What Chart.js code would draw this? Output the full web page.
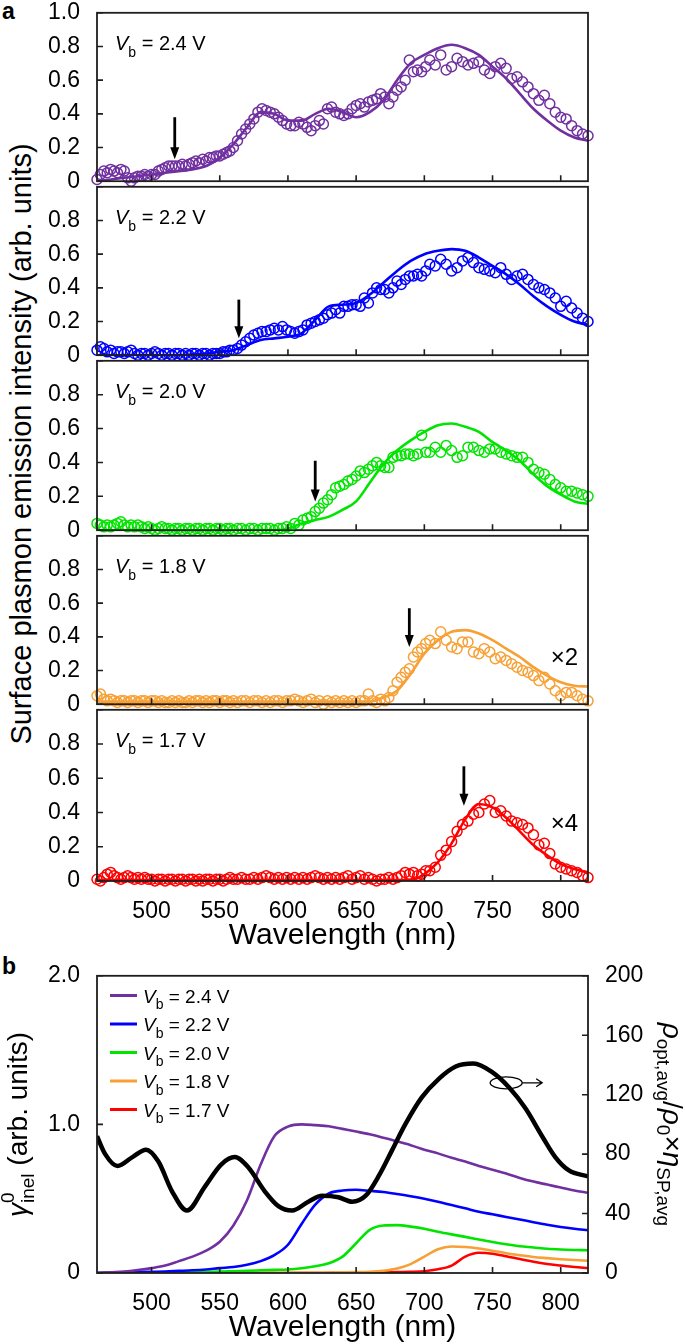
<!DOCTYPE html>
<html>
<head>
<meta charset="utf-8">
<script src="https://cdn.jsdelivr.net/npm/chart.js@4.4.1/dist/chart.umd.min.js"></script>
<style>
  body { margin: 0; background: #fff; }
  #wrap { position: relative; width: 685px; height: 1344px; overflow: hidden; font-family: "Liberation Sans", Arial, sans-serif; color: #000; }
  #wrap canvas { position: absolute; left: 0; }
  .tag { position: absolute; font-weight: bold; font-size: 23px; line-height: 1; }
  #ytitle { position: absolute; left: 21px; top: 444px; transform: translate(-50%, -50%) rotate(-90deg); white-space: nowrap; font-size: 29px; line-height: 1; }
</style>
</head>
<body>
<div id="wrap">
  <div class="tag" style="left:2px;top:0px">a</div>
  <div class="tag" style="left:2px;top:955px">b</div>
  <div id="ytitle">Surface plasmon emission intensity (arb. units)</div>
</div>
<script>
// ---- data ----
// measured wavelengths (nm)
const wl = [460,462.5,465,467.5,470,472.5,475,477.5,480,482.5,485,487.5,490,492.5,495,497.5,500,502.5,505,507.5,
  510,512.5,515,517.5,520,522.5,525,527.5,530,532.5,535,537.5,540,542.5,545,547.5,550,552.5,555,557.5,560,
  563,566,569,572,575,578,581,584,587,590,593,596,599,602,605,608,611,614,617,620,623,626,629,632,635,638,
  641,644,647,650,653,656,659,662,665,668,671,674,677,680,683,686,689,692,695,698,701,
  704,708,712,716,720,724,728,732,736,740,744,748,752,756,760,764,768,772,776,780,784,788,792,796,800,804,808,812,816,820];

// emission spectra, circles
const em24 = [0.01,0.04,0.06,0.05,0.07,0.06,0.05,0.07,0.06,0.02,0.00,0.02,0.03,0.03,0.04,0.03,0.04,0.04,0.06,0.07,
  0.08,0.09,0.09,0.09,0.09,0.10,0.09,0.10,0.11,0.12,0.11,0.13,0.12,0.14,0.14,0.15,0.15,0.16,0.17,0.18,0.20,
  0.24,0.28,0.31,0.34,0.37,0.41,0.43,0.42,0.41,0.40,0.38,0.36,0.34,0.33,0.33,0.35,0.34,0.32,0.30,0.33,
  0.36,0.34,0.43,0.44,0.41,0.40,0.39,0.40,0.43,0.45,0.46,0.44,0.47,0.48,0.49,0.52,0.50,0.46,0.50,0.54,
  0.56,0.60,0.72,0.65,0.66,0.65,0.68,
  0.72,0.69,0.75,0.66,0.68,0.73,0.71,0.69,0.70,0.71,0.66,0.64,0.68,0.70,0.67,0.61,0.62,0.59,0.56,0.52,
  0.48,0.51,0.46,0.41,0.38,0.37,0.33,0.30,0.28,0.27];
const em22 = [0.03,0.05,0.04,0.02,0.03,0.01,0.02,0.02,0.01,0.02,0.03,0.01,0.00,0.01,0.01,0.00,0.01,0.02,0.01,0.00,
  0.01,0.01,0.00,0.01,0.01,0.00,0.01,0.00,0.01,0.01,0.00,0.01,0.01,0.00,0.01,0.01,0.01,0.02,0.02,0.03,0.03,
  0.04,0.06,0.08,0.10,0.12,0.13,0.14,0.14,0.15,0.16,0.15,0.17,0.15,0.14,0.13,0.14,0.15,0.18,0.19,0.20,
  0.21,0.22,0.24,0.25,0.27,0.25,0.29,0.29,0.30,0.30,0.29,0.34,0.31,0.37,0.40,0.39,0.39,0.37,0.40,0.44,
  0.42,0.45,0.47,0.47,0.48,0.47,0.50,
  0.54,0.53,0.57,0.54,0.50,0.52,0.56,0.58,0.55,0.52,0.51,0.50,0.49,0.52,0.48,0.45,0.47,0.48,0.45,0.42,
  0.40,0.39,0.37,0.34,0.29,0.32,0.28,0.25,0.22,0.20];
const em20 = [0.04,0.03,0.02,0.03,0.02,0.03,0.04,0.05,0.03,0.02,0.03,0.02,0.03,0.02,0.01,0.02,0.01,0.00,0.01,0.02,
  0.01,0.01,0.00,0.01,0.01,0.00,0.01,0.01,0.00,0.01,0.01,0.00,0.01,0.01,0.00,0.01,0.01,0.00,0.01,0.01,0.00,
  0.01,0.01,0.00,0.01,0.01,0.00,0.01,0.01,0.01,0.00,0.01,0.01,0.02,0.01,0.04,0.03,0.06,0.07,0.08,0.11,
  0.13,0.16,0.18,0.21,0.25,0.26,0.27,0.29,0.30,0.32,0.35,0.34,0.36,0.38,0.40,0.38,0.37,0.37,0.43,0.44,
  0.44,0.45,0.45,0.44,0.45,0.56,0.46,
  0.46,0.49,0.46,0.50,0.47,0.43,0.44,0.49,0.49,0.47,0.46,0.48,0.48,0.46,0.45,0.44,0.43,0.43,0.40,0.36,
  0.34,0.33,0.30,0.27,0.25,0.23,0.23,0.22,0.21,0.20];
const em18 = [0.05,0.06,0.03,0.02,0.03,0.02,0.01,0.02,0.02,0.01,0.02,0.02,0.01,0.02,0.02,0.01,0.02,0.02,0.01,0.02,
  0.01,0.01,0.02,0.01,0.02,0.01,0.01,0.02,0.01,0.02,0.02,0.01,0.02,0.01,0.02,0.02,0.01,0.02,0.02,0.01,0.02,
  0.01,0.02,0.02,0.01,0.02,0.02,0.01,0.02,0.01,0.02,0.02,0.01,0.02,0.02,0.03,0.02,0.01,0.02,0.03,0.01,
  0.02,0.00,0.02,0.01,0.02,0.01,0.02,0.01,0.02,0.01,0.02,0.02,0.06,0.02,0.01,0.03,0.02,0.04,0.08,0.13,
  0.16,0.19,0.21,0.28,0.31,0.33,0.36,
  0.38,0.36,0.43,0.38,0.34,0.33,0.37,0.37,0.31,0.30,0.33,0.31,0.27,0.28,0.26,0.24,0.22,0.20,0.19,0.17,
  0.14,0.16,0.12,0.08,0.05,0.07,0.07,0.05,0.03,0.02];
const em17 = [0.01,0.00,0.02,0.04,0.05,0.03,0.02,0.01,0.02,0.03,0.02,0.01,0.02,0.01,0.02,0.01,0.01,0.00,0.01,0.01,
  0.00,0.01,0.01,0.00,0.01,0.01,0.00,0.01,0.01,0.00,0.01,0.00,0.01,0.01,0.00,0.01,0.01,0.00,0.01,0.02,0.01,
  0.01,0.02,0.01,0.01,0.02,0.01,0.02,0.03,0.02,0.01,0.02,0.01,0.02,0.01,0.02,0.01,0.02,0.01,0.02,0.03,
  0.02,0.01,0.02,0.01,0.02,0.01,0.02,0.03,0.01,0.02,0.03,0.01,0.02,0.01,0.00,0.01,0.01,0.02,0.01,0.02,
  0.03,0.05,0.04,0.05,0.03,0.04,0.06,
  0.06,0.08,0.15,0.18,0.23,0.29,0.33,0.35,0.39,0.40,0.45,0.47,0.40,0.41,0.38,0.35,0.34,0.33,0.31,0.27,
  0.21,0.22,0.16,0.10,0.08,0.07,0.06,0.05,0.03,0.02];

// calculated spectra, solid lines
const fitWl = [460,470,480,490,500,510,520,530,540,550,560,570,580,590,600,610,620,630,640,650,
  660,670,680,690,700,710,720,730,740,750,760,770,780,790,800,810,820];
const fit24 = [0.00,0.01,0.02,0.03,0.04,0.05,0.06,0.07,0.09,0.14,0.22,0.32,0.41,0.40,0.36,0.36,0.40,0.43,0.41,0.38,
  0.41,0.48,0.60,0.70,0.75,0.79,0.81,0.79,0.75,0.68,0.61,0.52,0.43,0.36,0.30,0.26,0.24];
const fit22 = [0,0,0,0,0,0,0,0.005,0.01,0.02,0.03,0.06,0.09,0.10,0.11,0.13,0.21,0.29,0.30,0.31,
  0.36,0.43,0.50,0.56,0.60,0.62,0.63,0.62,0.58,0.53,0.48,0.42,0.35,0.29,0.24,0.20,0.18];
const fit20 = [0,0,0,0,0,0,0,0,0,0,0,0,0,0,0.01,0.04,0.06,0.08,0.12,0.17,
  0.28,0.39,0.47,0.53,0.58,0.62,0.63,0.61,0.58,0.52,0.47,0.41,0.33,0.26,0.21,0.17,0.155];
const fit18 = [0.015,0.015,0.015,0.015,0.015,0.015,0.015,0.015,0.015,0.015,0.015,0.015,0.015,0.015,0.015,0.015,0.015,0.015,0.015,0.015,
  0.015,0.04,0.08,0.18,0.30,0.38,0.43,0.44,0.42,0.38,0.33,0.28,0.22,0.17,0.13,0.11,0.105];
const fit17 = [0.005,0.005,0.005,0.005,0.005,0.005,0.005,0.005,0.005,0.005,0.005,0.005,0.005,0.005,0.005,0.005,0.005,0.005,0.005,0.005,
  0.005,0.005,0.005,0.005,0.04,0.11,0.22,0.36,0.45,0.43,0.37,0.29,0.21,0.15,0.10,0.07,0.05];

const biasLabels = ['2.4', '2.2', '2.0', '1.8', '1.7'];
const cutoffNm = [517, 564, 620, 689, 729];      // hc/eV_b, marked by arrows
const scaleFactors = ['', '', '', '×2', '×4'];

// panel b
const rhoWl = [460,466,475,486,496,505,515,526,539,551,561,571,583,593,603,615,625,637,647,657,
  667,676,686,698,711,723,736,750,762,774,787,796,806,820];
const rhoEta = [92,80,72,78,83,75,55,42,58,73,78,71,55,45,42,48,52,51,48,52,
  66,82,100,118,131,139,141,135,125,111,91,78,69,65];
const gWl = fitWl;
const g24 = [0,0.005,0.01,0.02,0.033,0.05,0.08,0.11,0.15,0.21,0.32,0.49,0.73,0.92,0.985,1.0,0.995,0.988,0.97,0.952,
  0.933,0.91,0.886,0.86,0.83,0.805,0.775,0.75,0.72,0.695,0.67,0.64,0.615,0.595,0.575,0.555,0.54];
const g22 = [0,0.002,0.004,0.006,0.008,0.01,0.014,0.018,0.024,0.033,0.04,0.055,0.08,0.12,0.19,0.33,0.46,0.535,0.555,0.56,
  0.553,0.545,0.532,0.517,0.50,0.48,0.457,0.435,0.412,0.395,0.377,0.36,0.342,0.325,0.31,0.298,0.288];
const g20 = [0,0,0,0.001,0.002,0.003,0.004,0.005,0.007,0.009,0.012,0.015,0.018,0.021,0.024,0.032,0.045,0.065,0.11,0.2,
  0.29,0.32,0.322,0.312,0.298,0.278,0.26,0.243,0.225,0.208,0.193,0.18,0.172,0.163,0.158,0.155,0.153];
const g18 = [0,0,0,0,0,0,0,0,0,0,0,0.001,0.001,0.002,0.002,0.003,0.003,0.004,0.005,0.006,
  0.008,0.015,0.03,0.06,0.11,0.16,0.178,0.175,0.165,0.15,0.133,0.12,0.108,0.1,0.093,0.087,0.082];
const g17 = [0,0,0,0,0,0,0,0,0,0,0,0,0,0,0,0,0,0,0.001,0.002,
  0.003,0.004,0.006,0.008,0.012,0.025,0.05,0.11,0.136,0.13,0.113,0.094,0.076,0.061,0.05,0.04,0.033];

// ---- look ----
const FONT = '"Liberation Sans", Arial, sans-serif';
const colors = ['#7030a0', '#0000ff', '#00e400', '#f7a035', '#ff0000'];
const W = 685, PLOT_L = 97, PLOT_R = 588, XAXIS_H = 73;
const subTop = [10, 184, 358, 533, 707];
const subH = [174, 174, 175, 174, 174];
const arrowSpan = [[0.38, 0.13], [0.33, 0.10], [0.41, 0.17], [0.57, 0.34], [0.67, 0.44]];
const multY = [0, 0, 0, 129, 121];

Chart.defaults.font.family = FONT;
Chart.defaults.color = '#000';

const pts = (xs, ys) => xs.map((x, k) => ({ x: x, y: ys[k] }));

function segFont(s) { return (s.it ? 'italic ' : '') + s.size + 'px ' + FONT; }
function richWidth(ctx, segs) {
  let w = 0;
  segs.forEach(s => { ctx.font = segFont(s); if (!s.noAdv) w += ctx.measureText(s.t).width; });
  return w;
}
function drawRich(ctx, segs, x, y) {
  let cx = x;
  segs.forEach(s => {
    ctx.font = segFont(s);
    ctx.fillText(s.t, cx, y + (s.dy || 0));
    if (!s.noAdv) cx += ctx.measureText(s.t).width;
  });
}
function vbSegs(v, size) {
  return [{ t: 'V', size: size, it: true }, { t: 'b', size: Math.round(size * 0.72), dy: size * 0.36 }, { t: ' = ' + v + ' V', size: size }];
}

// box + inward tick marks
const frameTicks = {
  id: 'frameTicks',
  afterDatasetsDraw(chart) {
    const { ctx, chartArea: a, scales } = chart;
    ctx.save();
    ctx.strokeStyle = '#1e1e1e';
    ctx.lineWidth = 1.8;
    ctx.strokeRect(a.left, a.top, a.right - a.left, a.bottom - a.top);
    ctx.lineWidth = 1.6;
    ctx.beginPath();
    scales.x.ticks.forEach(t => { const p = scales.x.getPixelForValue(t.value); ctx.moveTo(p, a.bottom); ctx.lineTo(p, a.bottom - 6); });
    scales.y.ticks.forEach(t => { const p = scales.y.getPixelForValue(t.value); ctx.moveTo(a.left, p); ctx.lineTo(a.left + 6, p); });
    if (scales.y1) scales.y1.ticks.forEach(t => { const p = scales.y1.getPixelForValue(t.value); ctx.moveTo(a.right, p); ctx.lineTo(a.right - 6, p); });
    ctx.stroke();
    ctx.restore();
  }
};

// V_b label, threshold arrow, scale factor
const panelNotes = {
  id: 'panelNotes',
  afterDraw(chart, args, o) {
    if (!o.bias) return;
    const { ctx, chartArea: a, scales: { x, y } } = chart;
    ctx.save();
    ctx.fillStyle = '#000';
    drawRich(ctx, vbSegs(o.bias, 20), a.left + 18, a.top + 37);
    const ax = x.getPixelForValue(o.cutoff);
    const yTop = y.getPixelForValue(o.span[0]), yTip = y.getPixelForValue(o.span[1]);
    ctx.strokeStyle = '#000';
    ctx.lineWidth = 2.8;
    ctx.beginPath(); ctx.moveTo(ax, yTop); ctx.lineTo(ax, yTip - 10); ctx.stroke();
    ctx.beginPath(); ctx.moveTo(ax - 4.5, yTip - 12); ctx.lineTo(ax + 4.5, yTip - 12); ctx.lineTo(ax, yTip); ctx.closePath(); ctx.fill();
    if (o.mult) {
      ctx.font = '24px ' + FONT;
      ctx.textAlign = 'right';
      ctx.fillText(o.mult, a.right - 10, a.top + o.multY);
    }
    ctx.restore();
  }
};

// legend, ellipse marker and axis titles of panel b
const panelBNotes = {
  id: 'panelBNotes',
  afterDraw(chart) {
    const { ctx, chartArea: a, scales: { x, y1 } } = chart;
    ctx.save();
    ctx.fillStyle = '#000';
    biasLabels.forEach((b, i) => {
      const ly = a.top + 19.7 + 28.5 * i;
      ctx.strokeStyle = colors[i];
      ctx.lineWidth = 3;
      ctx.beginPath(); ctx.moveTo(a.left + 13, ly); ctx.lineTo(a.left + 40, ly); ctx.stroke();
      drawRich(ctx, vbSegs(b, 19), a.left + 46, ly + 7);
    });
    const ex = x.getPixelForValue(760), ey = y1.getPixelForValue(128);
    ctx.strokeStyle = '#000';
    ctx.lineWidth = 1.3;
    ctx.beginPath(); ctx.ellipse(ex, ey, 16, 6, 0, 0, Math.PI * 2); ctx.stroke();
    ctx.beginPath();
    ctx.moveTo(ex + 16, ey); ctx.lineTo(ex + 36, ey);
    ctx.moveTo(ex + 30, ey - 4); ctx.lineTo(ex + 36, ey); ctx.lineTo(ex + 30, ey + 4);
    ctx.stroke();

    const cy = (a.top + a.bottom) / 2;
    const left = [{ t: 'γ', size: 28, it: true }, { t: '0', size: 19, dy: -13, noAdv: true }, { t: 'inel', size: 19, dy: 7 }, { t: ' (arb. units)', size: 28 }];
    ctx.save();
    ctx.translate(27, cy); ctx.rotate(-Math.PI / 2);
    drawRich(ctx, left, -richWidth(ctx, left) / 2, 0);
    ctx.restore();
    const right = [{ t: 'ρ', size: 28, it: true }, { t: 'opt,avg', size: 19, dy: 6 }, { t: '/', size: 28 }, { t: 'ρ', size: 28, it: true },
      { t: '0', size: 19, dy: 6 }, { t: '×', size: 28 }, { t: 'η', size: 28, it: true }, { t: 'SP,avg', size: 19, dy: 6 }];
    ctx.save();
    ctx.translate(663, cy); ctx.rotate(Math.PI / 2);
    drawRich(ctx, right, -richWidth(ctx, right) / 2, 0);
    ctx.restore();
    ctx.restore();
  }
};

const wrap = document.getElementById('wrap');
function makeCanvas(top, height) {
  const c = document.createElement('canvas');
  c.width = W; c.height = height;
  c.style.top = top + 'px';
  c.style.width = W + 'px'; c.style.height = height + 'px';
  wrap.appendChild(c);
  return c;
}

function xScale(showLabels) {
  return {
    type: 'linear', min: 460, max: 820,
    grid: { display: false }, border: { display: false },
    ticks: { stepSize: 50, includeBounds: false, display: showLabels, padding: 9, font: { size: 23 }, color: '#000' },
    title: { display: showLabels, text: 'Wavelength (nm)', font: { size: 30 }, color: '#000', padding: 0 },
    afterFit: s => { s.height = showLabels ? XAXIS_H : 0; }
  };
}

// panel a: five stacked spectra
const emission = [em24, em22, em20, em18, em17];
const fits = [fit24, fit22, fit20, fit18, fit17];
emission.forEach((vals, i) => {
  const last = i === 4;
  const cv = makeCanvas(subTop[i] - 20, 20 + subH[i] + (last ? XAXIS_H : 20));
  new Chart(cv, {
    type: 'scatter',
    data: {
      datasets: [
        { data: pts(fitWl, fits[i]), showLine: true, borderColor: colors[i], borderWidth: 2.6, pointRadius: 0, cubicInterpolationMode: 'monotone' },
        { data: pts(wl, vals), showLine: false, borderColor: colors[i], backgroundColor: 'rgba(0,0,0,0)', pointRadius: 5, pointBorderWidth: 1.5, clip: false }
      ]
    },
    options: {
      responsive: false, animation: false, devicePixelRatio: 1,
      layout: { padding: { top: 20, right: W - PLOT_R, bottom: last ? 0 : 20, left: 0 } },
      events: [],
      plugins: {
        legend: { display: false }, tooltip: { enabled: false },
        panelNotes: { bias: biasLabels[i], cutoff: cutoffNm[i], span: arrowSpan[i], mult: scaleFactors[i], multY: multY[i] }
      },
      scales: {
        x: xScale(last),
        y: {
          min: 0, max: 1, grid: { display: false }, border: { display: false },
          ticks: { stepSize: 0.2, padding: 9, font: { size: 23 }, color: '#000',
            callback: v => v === 0 ? '0' : (i > 0 && v > 0.99 ? '' : v.toFixed(1)) },
          afterFit: s => { s.width = PLOT_L; }
        }
      }
    },
    plugins: [frameTicks, panelNotes]
  });
});

// panel b
const gammas = [g24, g22, g20, g18, g17];
const cvB = makeCanvas(953, 20 + 300 + XAXIS_H);
new Chart(cvB, {
  type: 'scatter',
  data: {
    datasets: [{ data: pts(rhoWl, rhoEta), yAxisID: 'y1', showLine: true, borderColor: '#000', borderWidth: 4.5, pointRadius: 0, cubicInterpolationMode: 'monotone' }]
      .concat(gammas.map((g, i) => ({ data: pts(gWl, g), yAxisID: 'y', showLine: true, borderColor: colors[i], borderWidth: 2.6, pointRadius: 0, cubicInterpolationMode: 'monotone' })))
  },
  options: {
    responsive: false, animation: false, devicePixelRatio: 1,
    layout: { padding: { top: 20, right: 0, bottom: 0, left: 0 } },
    events: [],
    plugins: { legend: { display: false }, tooltip: { enabled: false } },
    scales: {
      x: xScale(true),
      y: {
        position: 'left', min: 0, max: 2, grid: { display: false }, border: { display: false },
        ticks: { stepSize: 1, padding: 9, font: { size: 23 }, color: '#000', callback: v => v === 0 ? '0' : v.toFixed(1) },
        afterFit: s => { s.width = PLOT_L; }
      },
      y1: {
        position: 'right', min: 0, max: 200, grid: { display: false }, border: { display: false },
        ticks: { stepSize: 40, padding: 9, font: { size: 23 }, color: '#000' },
        afterFit: s => { s.width = W - PLOT_R; }
      }
    }
  },
  plugins: [frameTicks, panelBNotes]
});
</script>
</body>
</html>
